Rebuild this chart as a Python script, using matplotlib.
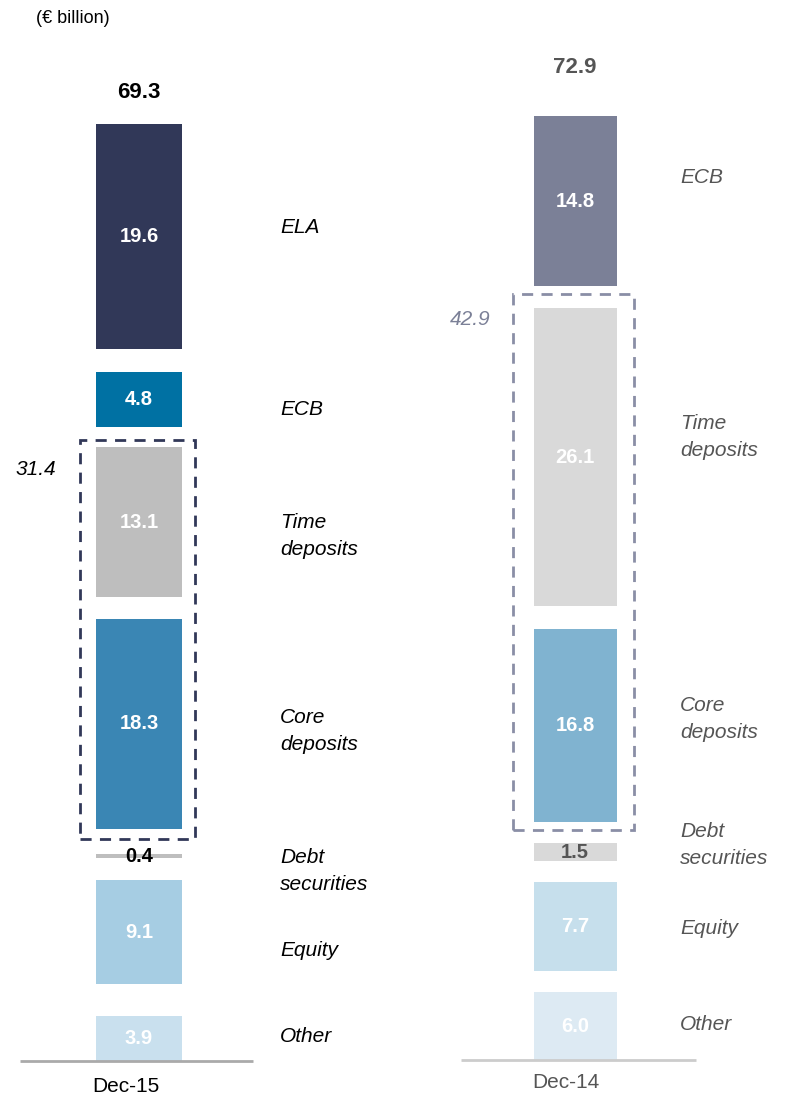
import matplotlib.pyplot as plt
from matplotlib.patches import Rectangle

# data (EUR billion), bottom to top
items_15 = ["Other", "Equity", "Debt\nsecurities", "Core\ndeposits", "Time\ndeposits", "ECB", "ELA"]
values_15 = [3.9, 9.1, 0.4, 18.3, 13.1, 4.8, 19.6]
total_15 = 69.3
deposits_15 = 31.4

items_14 = ["Other", "Equity", "Debt\nsecurities", "Core\ndeposits", "Time\ndeposits", "ECB"]
values_14 = [6.0, 7.7, 1.5, 16.8, 26.1, 14.8]
total_14 = 72.9
deposits_14 = 42.9

periods = ["Dec-15", "Dec-14"]

colors_15 = ["#c9e0ee", "#a6cde3", "#bebebe", "#3a86b4", "#bebebe", "#0071a3", "#313858"]
colors_14 = ["#ddeaf3", "#c6dfec", "#d9d9d9", "#80b3d0", "#d9d9d9", "#7b8097"]

# layout (pixel based, 100 dpi)
W, H = 801, 1110
BASE_PX = 1061
SCALE = 11.45
FONT = "Liberation Sans"
GAPS_15 = [2.8, 1.9, 2.2, 1.9, 1.8, 2.0]
GAPS_14 = [1.9, 1.9, 1.9, 2.0, 1.9]


def p2v(p):
    return (BASE_PX - p) / SCALE


fig = plt.figure(figsize=(W / 100, H / 100), dpi=100)
ax = fig.add_axes([0, 0, 1, 1])
ax.set_xlim(0, W)
ax.set_ylim(p2v(H), p2v(0))
ax.axis("off")


def draw_column(ax, x, width, values, colors, gaps, items, label_x, label_y, text_col,
                value_cols, value_y, box, box_col, box_text_col, box_label, box_label_xy,
                total, total_y):
    bottoms = []
    b = 0.0
    for i, v in enumerate(values):
        bottoms.append(b)
        b += v + (gaps[i] if i < len(gaps) else 0)
    ax.bar([x] * len(values), values, width=width, bottom=bottoms, color=colors, linewidth=0)

    for i, (v, bt) in enumerate(zip(values, bottoms)):
        y = bt + v / 2 if value_y[i] is None else p2v(value_y[i])
        ax.text(x, y, f"{v:.1f}", ha="center", va="center", fontsize=14.5,
                fontweight="bold", color=value_cols[i], family=FONT)

    for name, py in zip(items, label_y):
        ax.text(label_x, p2v(py), name, ha="left", va="center", fontsize=15,
                style="italic", color=text_col, family=FONT, linespacing=1.5)

    # dashed deposits box around core + time deposits
    lo = bottoms[3] - box[0]
    hi = bottoms[4] + values[4] + box[1]
    ax.add_patch(Rectangle((box[2], lo), box[3] - box[2], hi - lo, fill=False,
                           edgecolor=box_col, linewidth=2, linestyle=(0, (4, 3))))
    ax.text(box_label_xy[0], p2v(box_label_xy[1]), f"{box_label:.1f}", ha="left", va="center",
            fontsize=15, style="italic", color=box_text_col, family=FONT)

    ax.text(x, p2v(total_y), f"{total:.1f}", ha="center", va="center", fontsize=16,
            fontweight="bold", color=text_col, family=FONT)


# Dec-15
draw_column(ax, 139, 86, values_15, colors_15, GAPS_15, items_15, 280,
            [1036, 951, 871, 731, 536, 410, 228], "black",
            ["white", "white", "black", "white", "white", "white", "white"],
            [None, None, 857, None, None, None, None],
            (0.9, 0.6, 80, 195), "#313858", "black", deposits_15, (16, 470), total_15, 93)

# Dec-14
draw_column(ax, 575, 83, values_14, colors_14, GAPS_14, items_14, 680,
            [1025, 928, 845, 719, 437, 178], "#555555",
            ["white", "white", "#555555", "white", "white", "white"],
            [None, None, 853, None, None, None],
            (0.7, 1.2, 513, 634), "#8a8ea6", "#7b8097", deposits_14, (450, 320), total_14, 68)

# baselines and period labels
ax.plot([20, 253], [p2v(1061), p2v(1061)], color="#aaaaaa", linewidth=2, solid_capstyle="butt")
ax.plot([461, 696], [p2v(1060), p2v(1060)], color="#cccccc", linewidth=2, solid_capstyle="butt")
ax.text(126, p2v(1086), periods[0], ha="center", va="center", fontsize=15, color="black", family=FONT)
ax.text(566, p2v(1083), periods[1], ha="center", va="center", fontsize=15, color="#555555", family=FONT)

ax.text(36, p2v(19), "(€ billion)", ha="left", va="center", fontsize=13, color="black", family=FONT)

fig.savefig("out.png", dpi=100)
